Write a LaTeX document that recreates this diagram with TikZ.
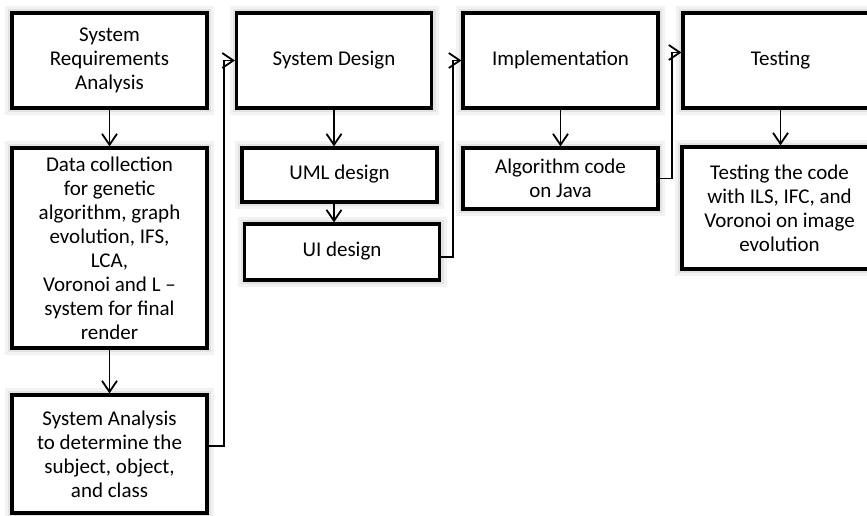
\documentclass[tikz,border=0pt]{standalone}
\usepackage{fontspec}
\setmainfont{Carlito}
\usetikzlibrary{arrows.meta,calc,positioning}

\begin{document}
\begin{tikzpicture}[x=1pt,y=-1pt,
  stage/.style={draw, line width=3.2pt, fill=white, align=center,
                font=\fontsize{21}{24}\selectfont, inner sep=2pt,
                minimum width=195pt,
                preaction={draw=black!5, line width=14pt},
                preaction={draw=black!11, line width=8pt}},
  oneline/.style={text height=14pt, text depth=5pt},
  link/.style={line width=1.8pt, -{Straight Barb[length=11pt,width=15pt]}}]

\useasboundingbox (0,0) rectangle (867,515);
\clip (0,0) rectangle (867,515);

\node[stage, minimum height=95pt] (req) at (109.5,60.5) {System\\Requirements\\Analysis};
\node[stage, minimum height=200pt] (data) at (109.5,248) {Data collection\\for genetic\\algorithm, graph\\evolution, IFS,\\LCA,\\Voronoi and L --\\system for final\\render};
\node[stage, minimum height=118pt] (ana) at (109.5,454) {System Analysis\\to determine the\\subject, object,\\and class};

\node[stage, oneline, minimum height=95pt] (des) at (334,60.5) {System Design};
\node[stage, oneline, minimum height=54pt] (uml) at (339.5,175) {UML design};
\node[stage, oneline, minimum height=56pt] (ui) at (342,252) {UI design};

\node[stage, oneline, minimum height=95pt] (imp) at (560.5,60.5) {Implementation};
\node[stage, minimum height=61pt] (alg) at (560.5,178.5) {Algorithm code\\on Java};

\node[stage, oneline, minimum height=95pt] (tst) at (780.5,60.5) {Testing};
\node[stage, minimum height=122pt] (tcode) at (779.5,208) {Testing the code\\with ILS, IFC, and\\Voronoi on image\\evolution};

\draw[link] (req) -- (data);
\draw[link] (data) -- (ana);
\draw[link] ($(ana.east)+(0,-8)$) -- ++(15,0) |- (des.west);

\draw[link] (des.south) -- (des.south |- uml.north);
\draw[link] (uml.south -| des.south) -- (des.south |- ui.north);
\draw[link] ($(ui.east)+(0,5)$) -- ++(12,0) |- (imp.west);

\draw[link] (imp) -- (alg);
\draw[link] (alg.east) -- ++(12,0) |- ($(tst.west)+(0,-8)$);

\draw[link] (tst.south) -- (tst.south |- tcode.north);
\end{tikzpicture}
\end{document}
